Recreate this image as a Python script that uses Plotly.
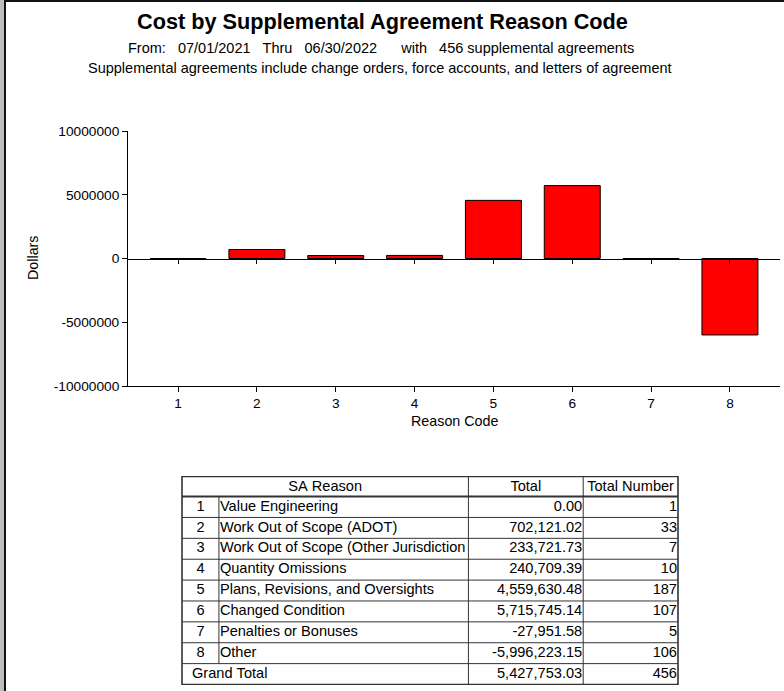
import plotly.graph_objects as go

# ---------------- data ----------------
codes = [1, 2, 3, 4, 5, 6, 7, 8]
reasons = [
    "Value Engineering",
    "Work Out of Scope (ADOT)",
    "Work Out of Scope (Other Jurisdiction",
    "Quantity Omissions",
    "Plans, Revisions, and Oversights",
    "Changed Condition",
    "Penalties or Bonuses",
    "Other",
]
totals = [0.00, 702121.02, 233721.73, 240709.39, 4559630.48, 5715745.14, -27951.58, -5996223.15]
counts = [1, 33, 7, 10, 187, 107, 5, 106]
y_ticks = [-10000000, -5000000, 0, 5000000, 10000000]

title = "Cost by Supplemental Agreement Reason Code"
sub1 = "From:   07/01/2021   Thru   06/30/2022      with   456 supplemental agreements"
sub2 = "Supplemental agreements include change orders, force accounts, and letters of agreement"
headers = ["SA Reason", "Total", "Total Number"]

grand_total = sum(totals)
grand_count = sum(counts)

# ---------------- geometry helpers ----------------
W, H = 784, 691
FONT = "Liberation Sans, Arial, sans-serif"


def px(x):
    return x / W


def py(y):
    return 1 - y / H


nbsp = lambda s: s.replace(" ", "\u00a0")

fig = go.Figure()

# bars
fig.add_trace(go.Bar(
    x=codes, y=totals, width=0.71,
    marker=dict(color="#ff0000", line=dict(color="black", width=1)),
    hoverinfo="x+y", showlegend=False,
))
# helper trace for the axis drawn through zero
fig.add_trace(go.Scatter(
    x=codes, y=totals, xaxis="x2", yaxis="y", mode="markers",
    marker=dict(opacity=0), hoverinfo="skip", showlegend=False,
))

xr = [0.365, 8.635]

# ---------------- table via text traces on a pixel-like axis ----------------
col_edges = [0, 37, 287, 402, 497]  # relative x positions of column borders
header_h = 20
row_h = 20.8
n_rows = len(codes) + 1
tbl_h = header_h + row_h * n_rows


def row_mid(i):
    return header_h + row_h * i + row_h / 2


num_texts = [str(c) for c in codes]
name_texts = [nbsp(r) for r in reasons] + [nbsp("Grand Total")]
total_texts = [f"{v:,.2f}" for v in totals] + [f"{grand_total:,.2f}"]
count_texts = [str(c) for c in counts] + [str(grand_count)]
row_ys = [row_mid(i) for i in range(n_rows)]

tfont = dict(family=FONT, size=14.6, color="black")
common = dict(xaxis="x3", yaxis="y3", mode="text", hoverinfo="skip", showlegend=False, textfont=tfont)
# header
fig.add_trace(go.Scatter(
    x=[(col_edges[0] + col_edges[2]) / 2, (col_edges[2] + col_edges[3]) / 2, (col_edges[3] + col_edges[4]) / 2],
    y=[header_h / 2 + 1] * 3, text=[nbsp(h) for h in headers], textposition="middle center", **common))
# code numbers
fig.add_trace(go.Scatter(
    x=[(col_edges[0] + col_edges[1]) / 2] * len(codes), y=row_ys[:-1],
    text=num_texts, textposition="middle center", **common))
# names
fig.add_trace(go.Scatter(
    x=[col_edges[1] + 1] * len(reasons) + [col_edges[0] + 10], y=row_ys,
    text=name_texts, textposition="middle right", **common))
# totals
fig.add_trace(go.Scatter(
    x=[col_edges[3] - 1] * n_rows, y=row_ys,
    text=total_texts, textposition="middle left", **common))
# counts
fig.add_trace(go.Scatter(
    x=[col_edges[4] - 1] * n_rows, y=row_ys,
    text=count_texts, textposition="middle left", **common))

shapes = []
line_c = "#333333"
# horizontal row lines
for i in range(n_rows):
    yv = header_h + row_h * i
    shapes.append(dict(type="line", xref="x3", yref="y3", x0=0, x1=col_edges[-1], y0=yv, y1=yv,
                       line=dict(color=line_c, width=2 if i == 0 else 1)))
# vertical lines
shapes.append(dict(type="line", xref="x3", yref="y3", x0=col_edges[1], x1=col_edges[1],
                   y0=header_h, y1=header_h + row_h * len(codes), line=dict(color=line_c, width=1)))
for ce in col_edges[2:4]:
    shapes.append(dict(type="line", xref="x3", yref="y3", x0=ce, x1=ce, y0=0, y1=tbl_h,
                       line=dict(color=line_c, width=1)))
# outer frame
shapes.append(dict(type="rect", xref="x3", yref="y3", x0=0, x1=col_edges[-1], y0=0, y1=tbl_h,
                   line=dict(color=line_c, width=1.6)))

# window frame
shapes.append(dict(type="rect", xref="paper", yref="paper", x0=0, x1=px(4), y0=0, y1=1,
                   fillcolor="#bdbdbd", line=dict(width=0)))
shapes.append(dict(type="line", xref="paper", yref="paper", x0=px(5), x1=px(5), y0=0, y1=1,
                   line=dict(color="#111111", width=2)))
shapes.append(dict(type="line", xref="paper", yref="paper", x0=px(5), x1=1, y0=py(1), y1=py(1),
                   line=dict(color="#111111", width=2)))

ydom = [py(386), py(131)]
zero_pos = (ydom[0] + ydom[1]) / 2

annotations = [
    dict(text="<b>" + title + "</b>", x=px(382), y=py(22), xref="paper", yref="paper", showarrow=False,
         font=dict(family=FONT, size=21.7, color="black"), xanchor="center", yanchor="middle"),
    dict(text=nbsp(sub1), x=px(381), y=py(48), xref="paper", yref="paper", showarrow=False,
         font=dict(family=FONT, size=14.5, color="black"), xanchor="center", yanchor="middle"),
    dict(text=sub2, x=px(380), y=py(68), xref="paper", yref="paper", showarrow=False,
         font=dict(family=FONT, size=14.5, color="black"), xanchor="center", yanchor="middle"),
    dict(text="Dollars", x=px(33), y=py(258), xref="paper", yref="paper", showarrow=False, textangle=-90,
         font=dict(family=FONT, size=14.3, color="black"), xanchor="center", yanchor="middle"),
    dict(text="Reason Code", x=px(454), y=py(421), xref="paper", yref="paper", showarrow=False,
         font=dict(family=FONT, size=14.3, color="black"), xanchor="center", yanchor="middle"),
]

fig.update_layout(
    template="none",
    width=W, height=H, autosize=False,
    margin=dict(l=0, r=0, t=0, b=0, pad=0),
    paper_bgcolor="white", plot_bgcolor="white",
    font=dict(family=FONT, size=13.7, color="black"),
    xaxis=dict(domain=[px(128), px(780)], range=xr, tickvals=codes, ticktext=[str(c) for c in codes],
               showline=True, linecolor="black", linewidth=1, ticks="outside", ticklen=5,
               tickcolor="black", showgrid=False, zeroline=False, anchor="y", automargin=False,
               tickfont=dict(family=FONT, size=13.7)),
    xaxis2=dict(overlaying="x", anchor="free", position=zero_pos, range=xr, tickvals=codes,
                showticklabels=False, showline=True, linecolor="black", linewidth=1, automargin=False,
                ticks="outside", ticklen=4, tickcolor="black", showgrid=False, zeroline=False),
    yaxis=dict(domain=ydom, range=[-10000000, 10000000], tickvals=y_ticks,
               ticktext=[str(v) for v in y_ticks], showline=True, linecolor="black", linewidth=1,
               ticks="outside", ticklen=5, tickcolor="black", showgrid=False, zeroline=False,
               automargin=False, tickfont=dict(family=FONT, size=13.7)),
    xaxis3=dict(domain=[px(181), px(679)], range=[-1, col_edges[-1] + 1], visible=False, anchor="y3",
                fixedrange=True, automargin=False),
    yaxis3=dict(domain=[py(685), py(476)], range=[tbl_h + 0.5, -0.5], visible=False, anchor="x3",
                fixedrange=True, automargin=False),
    shapes=shapes,
    annotations=annotations,
)

fig.write_html("out.html", config={"displayModeBar": False},
               post_script="document.body.style.margin='0';")
